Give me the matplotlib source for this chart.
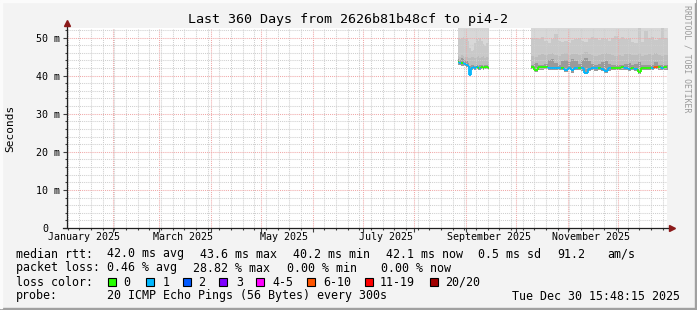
import datetime as dt
import matplotlib
matplotlib.use('Agg')
import matplotlib.pyplot as plt
import matplotlib.dates as mdates
from matplotlib.patches import Rectangle
from matplotlib.ticker import MultipleLocator
from matplotlib.transforms import ScaledTranslation
import numpy as np

plt.rcParams['font.family'] = 'DejaVu Sans Mono'

W, H = 697, 310
t_start = dt.datetime(2025, 1, 4, 15, 48, 15)
t_end = dt.datetime(2025, 12, 30, 15, 48, 15)

# loss colour classes
loss_labels = ['0', '1', '2', '3', '4-5', '6-10', '11-19', '20/20']
loss_colors = ['#26ff00', '#00b8ff', '#0059ff', '#7e00ff', '#ff00ff', '#ff5500', '#ff0000', '#a10000']

# smoke shades, outer -> inner
smoke_colors = ['#d8d8d8', '#c9c9c9', '#bdbdbd', '#9a9a9a']

# first block of data: daily bins from 27 Aug
seg1_start = dt.datetime(2025, 8, 27)
seg1_step = 1
seg1_median = [43.6, 43.4, 43.3, 43.2, 43.0, 42.9, 42.6, 40.2, 42.0, 42.2,
               42.1, 42.3, 42.0, 42.1, 42.2, 42.1, 42.2, 42.2, 42.1]
seg1_loss = [0, 1, 0, 1, 1, 1, 1, 1, 1, 1, 1, 1, 0, 1, 0, 0, 0, 0, 0]
seg1_min = [42.9, 42.7, 42.6, 42.5, 42.4, 42.3, 41.9, 39.8, 41.5, 41.7,
            41.6, 41.8, 41.5, 41.6, 41.7, 41.6, 41.7, 41.7, 41.6]
seg1_q1 = [44.4, 44.2, 44.5, 44.3, 44.0, 43.8, 43.4, 42.6, 42.7, 42.8,
           42.6, 42.9, 42.6, 42.7, 42.8, 42.6, 42.7, 42.8, 42.6]
seg1_q2 = [45.2, 45.0, 45.4, 45.1, 44.8, 45.0, 44.6, 44.5, 44.8, 45.0,
           44.6, 44.9, 45.2, 44.7, 44.9, 45.1, 44.6, 44.8, 45.0]
seg1_q3 = [50.0, 49.6, 49.8, 50.2, 49.5, 49.8, 49.0, 47.2, 46.5, 46.8,
           48.5, 49.5, 49.2, 49.8, 49.0, 48.2, 47.8, 48.6, 49.5]
seg1_max = [53.0] * 19  # smoke runs off the top everywhere

# second block: 2-day bins from 10 Oct
seg2_start = dt.datetime(2025, 10, 10)
seg2_step = 2
seg2_median = [42.3, 41.6, 42.2, 42.2, 42.3, 42.1, 42.0, 42.1, 42.0, 42.1,
               41.6, 42.0, 41.4, 42.0, 42.1, 41.9, 40.8, 41.7, 42.0, 41.9,
               42.0, 41.8, 41.3, 41.9, 42.1, 42.0, 42.1, 42.2, 42.0, 41.7,
               42.1, 41.8, 40.9, 42.0, 42.1, 42.1, 42.0, 42.3, 42.2, 42.1, 42.2]
seg2_loss = [0, 0, 0, 0, 0, 1, 1, 1, 1, 0, 1, 1, 1, 1, 0, 1, 1, 1, 1, 1,
             0, 1, 1, 1, 0, 0, 0, 0, 1, 1, 0, 1, 0, 0, 0, 0, 1, 5, 0, 1, 0]
seg2_min = [41.7, 41.0, 41.6, 41.6, 41.7, 41.5, 41.4, 41.5, 41.4, 41.5,
            41.0, 41.4, 40.8, 41.4, 41.5, 41.3, 40.3, 41.1, 41.4, 41.3,
            41.4, 41.2, 40.7, 41.3, 41.5, 41.4, 41.5, 41.6, 41.4, 41.1,
            41.5, 41.2, 40.4, 41.4, 41.5, 41.5, 41.4, 41.7, 41.6, 41.5, 41.6]
seg2_q1 = [42.9, 43.2, 42.8, 42.8, 43.0, 44.2, 44.4, 43.4, 42.8, 43.8,
           44.0, 43.6, 44.3, 43.9, 43.0, 44.0, 44.5, 43.8, 43.0, 42.8,
           43.0, 43.6, 43.9, 43.0, 42.8, 42.7, 42.9, 42.8, 43.1, 43.3,
           42.8, 43.0, 43.5, 42.7, 42.8, 42.8, 42.9, 43.7, 42.9, 42.8, 42.8]
seg2_q2 = [45.2, 45.0, 45.4, 45.6, 45.3, 45.8, 46.0, 45.5, 45.2, 45.7,
           45.9, 45.4, 45.8, 45.6, 45.3, 45.7, 46.1, 45.8, 45.4, 45.2,
           45.5, 45.8, 46.0, 45.6, 45.3, 45.1, 45.4, 45.2, 45.6, 45.8,
           45.3, 45.5, 45.9, 45.2, 45.4, 45.6, 45.3, 46.0, 45.5, 45.2, 45.4]
seg2_q3 = [50.0, 49.8, 49.5, 50.2, 49.0, 48.6, 49.5, 51.0, 49.2, 48.8,
           49.0, 48.5, 49.3, 49.6, 50.0, 49.0, 48.8, 49.5, 50.2, 49.8,
           49.3, 50.0, 49.6, 49.0, 49.8, 50.3, 49.7, 50.2, 49.5, 49.8,
           48.8, 48.5, 52.6, 48.7, 51.8, 49.8, 50.1, 49.4, 49.9, 52.6, 50.0]
seg2_max = [53.0] * 41

label_dates = [dt.datetime(2025, m, 15) for m in (1, 3, 5, 7, 9, 11)]
label_texts = ['January 2025', 'March 2025', 'May 2025', 'July 2025',
               'September 2025', 'November 2025']
y_ticks = [0, 10, 20, 30, 40, 50]
y_labels = ['0', '10 m', '20 m', '30 m', '40 m', '50 m']


def draw_segment(ax, start, step, med, loss, lo, q1, q2, q3, hi):
    n = len(med)
    edges = mdates.date2num([start + dt.timedelta(days=step * i) for i in range(n + 1)])
    ext = lambda v: list(v) + [v[-1]]
    for top, col in zip([hi, q3, q2, q1], smoke_colors):
        ax.fill_between(edges, ext(lo), ext(top), step='post', color=col, lw=0, zorder=1)
    cols = [loss_colors[k] for k in loss]
    ax.hlines(med, edges[:-1], edges[1:], colors=cols, lw=1.3, zorder=4)
    ax.vlines(edges[1:-1], med[:-1], med[1:], colors=cols[1:], lw=1.3, zorder=4)


fig = plt.figure(figsize=(W / 100, H / 100), dpi=100, facecolor='#f3f3f3')
ax = fig.add_axes([67 / W, 1 - 228 / H, 600 / W, 200 / H])
ax.set_facecolor('white')
for s in ax.spines.values():
    s.set_visible(False)

draw_segment(ax, seg1_start, seg1_step, seg1_median, seg1_loss, seg1_min,
             seg1_q1, seg1_q2, seg1_q3, seg1_max)
draw_segment(ax, seg2_start, seg2_step, seg2_median, seg2_loss, seg2_min,
             seg2_q1, seg2_q2, seg2_q3, seg2_max)

ax.set_xlim(t_start, t_end)
ax.set_ylim(0, 52.5)

ax.set_yticks(y_ticks, y_labels)
ax.yaxis.set_minor_locator(MultipleLocator(2))
ax.xaxis.set_major_locator(mdates.MonthLocator())
ax.xaxis.set_minor_locator(mdates.WeekdayLocator(byweekday=mdates.SU))
ax.tick_params(axis='x', which='both', labelbottom=False)
ax.tick_params(which='major', length=3, width=0.8, color='#404040', direction='out')
ax.tick_params(which='minor', length=1.5, width=0.8, color='#404040', direction='out')
ax.tick_params(axis='y', labelsize=7.2, pad=2, labelcolor='#000000')
ax.set_axisbelow(False)
ax.grid(which='major', color='#f0a8a8', lw=0.75, ls=(0, (1, 1)))
ax.grid(which='minor', color='#cfcfcf', lw=0.75, ls=(0, (1, 1)))

# the zero label sits where the digits of the other labels end
zero = ax.yaxis.get_major_ticks()[0].label1
zero.set_transform(zero.get_transform() + ScaledTranslation(-0.12, 0, fig.dpi_scale_trans))

sec = ax.secondary_xaxis('bottom')
sec.set_xticks(label_dates, label_texts)
sec.tick_params(length=0, labelsize=7.2, pad=3)
for s in sec.spines.values():
    s.set_visible(False)

# axes with arrow heads
ax.plot([-0.006, 1.006], [0, 0], transform=ax.transAxes, color='#202020', lw=0.9,
        clip_on=False, zorder=6)
ax.plot([0, 0], [0, 1.02], transform=ax.transAxes, color='#202020', lw=0.9,
        clip_on=False, zorder=6)
ax.plot([1.009], [0], marker='>', ms=4.5, color='#8b1a1a', transform=ax.transAxes,
        clip_on=False, zorder=7)
ax.plot([0], [1.024], marker='^', ms=4.5, color='#8b1a1a', transform=ax.transAxes,
        clip_on=False, zorder=7)


def px(x, y):
    return x / W, 1 - y / H


fig.text(*px(10, 128), 'Seconds', fontsize=8, rotation=90, ha='center', va='center')
fig.text(*px(347.5, 19), 'Last 360 Days from 2626b81b48cf to pi4-2', fontsize=9.6,
         ha='center', va='center')
fig.text(*px(687.5, 5), 'RRDTOOL / TOBI OETIKER', fontsize=5.9, color='#9a9a9a',
         rotation=270, ha='center', va='top')

lg = 8.4
rows = [
    (254, [(16, 'median rtt:'), (107, '42.0 ms avg'), (200, '43.6 ms max'),
           (293, '40.2 ms min'), (386, '42.1 ms now'), (478, '0.5 ms sd'),
           (557, '91.2'), (607, 'am/s')]),
    (268, [(16, 'packet loss:'), (107, '0.46 % avg'), (193, '28.82 % max'),
           (287, '0.00 % min'), (381, '0.00 % now')]),
    (282, [(16, 'loss color:')]),
    (296, [(16, 'probe:'), (107, '20 ICMP Echo Pings (56 Bytes) every 300s')]),
]
for y, items in rows:
    for x, s in items:
        fig.text(*px(x, y), s, fontsize=lg, ha='left', va='center')
fig.text(*px(680, 296), 'Tue Dec 30 15:48:15 2025', fontsize=lg, ha='right', va='center')

box_x = [108, 146, 183, 219, 256, 307, 365, 430]
text_x = [123, 163, 198, 236, 272, 323, 380, 445]
for bx, tx, col, lab in zip(box_x, text_x, loss_colors, loss_labels):
    fig.add_artist(Rectangle(px(bx, 286), 8 / W, 8 / H, facecolor=col, edgecolor='black',
                             lw=0.8, transform=fig.transFigure))
    fig.text(*px(tx, 282), lab, fontsize=lg, ha='left', va='center')

# 3d frame
fig.add_artist(Rectangle((0, 0), 1, 2 / H, color='#a0a0a0', transform=fig.transFigure))
fig.add_artist(Rectangle((1 - 2 / W, 0), 2 / W, 1, color='#a0a0a0', transform=fig.transFigure))
fig.add_artist(Rectangle((0, 1 - 2 / H), 1 - 2 / W, 2 / H, color='#fbfbfb', transform=fig.transFigure))
fig.add_artist(Rectangle((0, 2 / H), 2 / W, 1 - 4 / H, color='#fbfbfb', transform=fig.transFigure))

fig.savefig('out.png', dpi=100, facecolor=fig.get_facecolor())
